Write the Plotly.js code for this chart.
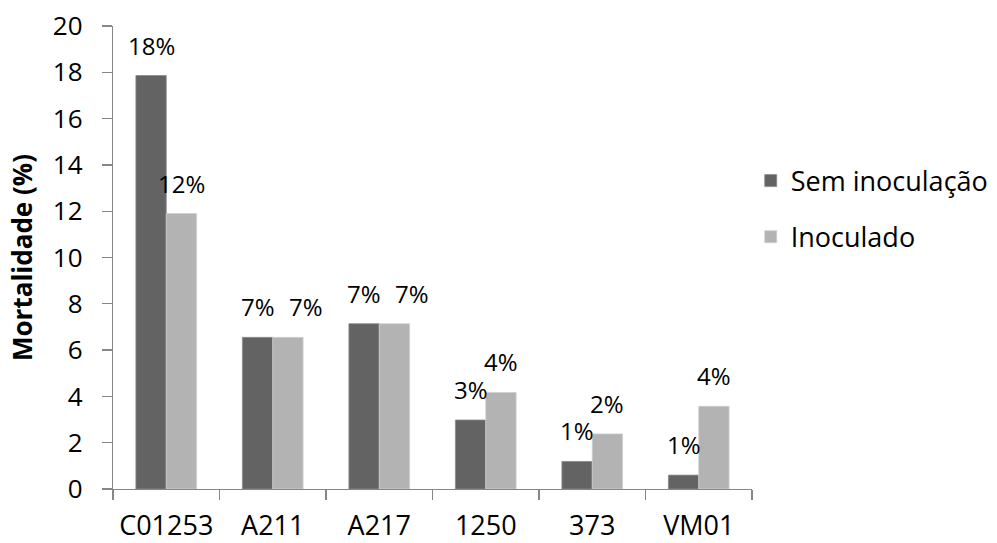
<!DOCTYPE html>
<html>
<head>
<meta charset="utf-8">
<script src="https://cdn.plot.ly/plotly-3.0.1.min.js"></script>
<style>html,body{margin:0;padding:0;background:#fff;}#chart{width:997px;height:543px;}</style>
</head>
<body>
<div id="chart"></div>
<script>
const categories = ["C01253", "A211", "A217", "1250", "373", "VM01"];
const semInoculacao = [17.86, 6.55, 7.14, 2.98, 1.19, 0.6];
const inoculado = [11.9, 6.55, 7.14, 4.17, 2.38, 3.57];
const semLabels = ["18%", "7%", "7%", "3%", "1%", "1%"];
const inoLabels = ["12%", "7%", "7%", "4%", "2%", "4%"];

const FONT = "Open Sans, Noto Sans, sans-serif";
const darkColor = "#636363";
const lightColor = "#b3b3b3";

const traces = [
  {type: "bar", name: "Sem inoculação", x: categories, y: semInoculacao, legendgroup: "a",
   marker: {color: darkColor, line: {color: "#8a8a8a", width: 0.8}}, hoverinfo: "skip"},
  {type: "bar", name: "Inoculado", x: categories, y: inoculado, legendgroup: "b",
   marker: {color: lightColor, line: {color: "#cfcfcf", width: 0.8}}, hoverinfo: "skip"}
];

// labels: centred over their bars; when both labels sit at the same height,
// the second one is nudged right so they do not collide
const annotations = [];
categories.forEach((c, i) => {
  const sameHeight = Math.abs(semInoculacao[i] - inoculado[i]) < 0.5;
  annotations.push({x: i, y: semInoculacao[i], text: semLabels[i], showarrow: false,
    xanchor: "center", yanchor: "bottom", xshift: -15, yshift: 12,
    font: {family: FONT, size: 24, color: "#000"}});
  annotations.push({x: i, y: inoculado[i], text: inoLabels[i], showarrow: false,
    xanchor: "center", yanchor: "bottom", xshift: sameHeight ? 33 : 15, yshift: 12,
    font: {family: FONT, size: 24, color: "#000"}});
});

const layout = {
  width: 997, height: 543,
  margin: {l: 113, r: 245, t: 26, b: 54, autoexpand: false},
  paper_bgcolor: "#fff", plot_bgcolor: "#fff",
  barmode: "group", bargap: 0.43, bargroupgap: 0,
  showlegend: true,
  legend: {x: 0.998, y: 0.718, xanchor: "left", yanchor: "top",
    font: {family: FONT, size: 27, color: "#000"}, traceorder: "grouped", tracegroupgap: 18,
    itemwidth: 30, bgcolor: "rgba(0,0,0,0)"},
  xaxis: {type: "category", range: [-0.5, 5.5], showgrid: false, zeroline: false,
    showline: true, linecolor: "#868686", linewidth: 1.3,
    ticks: "outside", tickson: "boundaries", ticklen: 10, tickcolor: "#868686", tickwidth: 1.3,
    tickangle: 0, automargin: false, ticklabelstandoff: 12,
    tickfont: {family: FONT, size: 27, color: "#000"}},
  yaxis: {range: [0, 20], dtick: 2, showgrid: false, zeroline: false,
    showline: true, linecolor: "#868686", linewidth: 1.3, automargin: false,
    ticks: "outside", ticklen: 10, tickcolor: "#868686", tickwidth: 1.3,
    ticklabelstandoff: 14,
    tickfont: {family: FONT, size: 26, color: "#000"},
    title: {text: "<b>Mortalidade (%)</b>", standoff: 12, font: {family: FONT, size: 26, color: "#000"}}},
  annotations: annotations
};

Plotly.newPlot("chart", traces, layout, {staticPlot: true, displayModeBar: false});
</script>
</body>
</html>
